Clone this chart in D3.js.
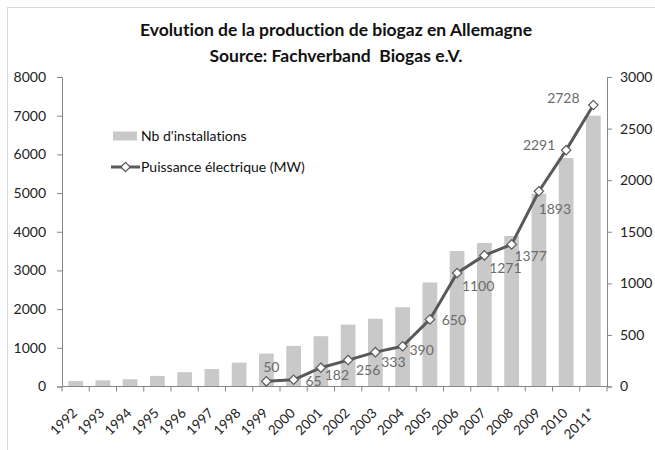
<!DOCTYPE html>
<html>
<head>
<meta charset="utf-8">
<script src="https://cdn.jsdelivr.net/npm/d3@7/dist/d3.min.js"></script>
<style>
  html,body{margin:0;padding:0;background:#fff;}
  svg{display:block;font-family:Lato,"Open Sans",sans-serif;font-variant-ligatures:none;}
</style>
</head>
<body>
<div id="chart"></div>
<script>
// data
const years = ["1992","1993","1994","1995","1996","1997","1998","1999","2000","2001",
  "2002","2003","2004","2005","2006","2007","2008","2009","2010","2011*"];
const installations = [139,159,186,274,370,450,617,850,1050,1300,
  1600,1750,2050,2690,3500,3711,3891,4984,5905,7000];
const power = [null,null,null,null,null,null,null,50,65,182,
  256,333,390,650,1100,1271,1377,1893,2291,2728];
const leftTicks = [0,1000,2000,3000,4000,5000,6000,7000,8000];
const rightTicks = [0,500,1000,1500,2000,2500,3000];
const titleLines = ["Evolution de la production de biogaz en Allemagne",
  "Source: Fachverband  Biogas e.V."];
const legendLabels = ["Nb d'installations", "Puissance électrique (MW)"];

const W = 655, H = 450;
const m = {left: 62, right: 48, top: 77, bottom: 63.5};

const svg = d3.select("#chart").append("svg")
  .attr("width", W).attr("height", H);

// chart frame
svg.append("rect")
  .attr("x", 7.5).attr("y", 7.5)
  .attr("width", 700).attr("height", 500)
  .attr("fill", "none").attr("stroke", "#d9d9d9");

const x = d3.scaleBand()
  .domain(years)
  .range([m.left, W - m.right])
  .paddingInner(0.46).paddingOuter(0.23);

const yL = d3.scaleLinear().domain([0, 8000]).range([H - m.bottom, m.top]);
const yR = d3.scaleLinear().domain([0, 3000]).range([H - m.bottom, m.top]);

// title
svg.selectAll("text.title").data(titleLines).enter().append("text")
  .attr("class", "title")
  .attr("x", 336).attr("y", (d, i) => 36 + i * 26)
  .attr("text-anchor", "middle")
  .style("white-space", "pre")
  .style("font-size", "17.5px").style("font-weight", "700")
  .style("fill", "#111")
  .text(d => d);

// bars
svg.selectAll("rect.bar").data(years).enter().append("rect")
  .attr("class", "bar")
  .attr("x", d => x(d))
  .attr("width", x.bandwidth())
  .attr("y", (d, i) => yL(installations[i]))
  .attr("height", (d, i) => yL(0) - yL(installations[i]))
  .attr("fill", "#c9c9c9");

// axes
const axisColor = "#868686";

const gL = svg.append("g")
  .attr("transform", `translate(${m.left},0)`)
  .call(d3.axisLeft(yL).tickValues(leftTicks).tickSize(5).tickPadding(11).tickFormat(d3.format("d")));

const gR = svg.append("g")
  .attr("transform", `translate(${W - m.right},0)`)
  .call(d3.axisRight(yR).tickValues(rightTicks).tickSize(5).tickPadding(8).tickFormat(d3.format("d")));

const step = x.step();
const tickPos = d3.range(years.length + 1).map(i => m.left + i * step);
const gX = svg.append("g").attr("transform", `translate(0,${yL(0)})`);
gX.append("line")
  .attr("x1", m.left).attr("x2", W - m.right)
  .attr("stroke", axisColor);
gX.selectAll("line.tk").data(tickPos).enter().append("line")
  .attr("class", "tk")
  .attr("x1", d => d).attr("x2", d => d)
  .attr("y1", 0).attr("y2", 5)
  .attr("stroke", axisColor);
gX.selectAll("text").data(years).enter().append("text")
  .attr("transform", d => `translate(${x(d) + x.bandwidth() / 2 - 1},${24}) rotate(-45)`)
  .attr("text-anchor", "end")
  .attr("dy", "0.35em")
  .style("font-size", "13.5px")
  .style("fill", "#222")
  .text(d => d);

[gL, gR].forEach(g => {
  g.select(".domain").attr("stroke", axisColor);
  g.selectAll(".tick line").attr("stroke", axisColor);
  g.selectAll(".tick text").style("font-size", "14px").style("fill", "#222")
    .style("font-family", "Lato,'Open Sans',sans-serif");
});

// line series
const pts = years.map((d, i) => ({year: d, v: power[i]})).filter(p => p.v !== null);
const cx = d => x(d.year) + x.bandwidth() / 2;

svg.append("path")
  .datum(pts)
  .attr("fill", "none")
  .attr("stroke", "#595959")
  .attr("stroke-width", 3)
  .attr("stroke-linejoin", "round")
  .attr("d", d3.line().x(cx).y(d => yR(d.v)));

const diamond = d3.symbol().type(d3.symbolDiamond2).size(56);
svg.selectAll("path.mk").data(pts).enter().append("path")
  .attr("class", "mk")
  .attr("transform", d => `translate(${cx(d)},${yR(d.v)})`)
  .attr("d", diamond)
  .attr("fill", "#fff")
  .attr("stroke", "#595959")
  .attr("stroke-width", 1.2);

// data label placement around each point
const labelOffset = {
  "1999": [5, -14], "2000": [20, 1], "2001": [16, 7], "2002": [20, 10],
  "2003": [18, 10], "2004": [19, 4], "2005": [24, 1], "2006": [21, 13],
  "2007": [21, 13], "2008": [19, 12], "2009": [16, 18], "2010": [-27, -5],
  "2011*": [-30, -7]
};
svg.selectAll("text.lbl").data(pts).enter().append("text")
  .attr("class", "lbl")
  .attr("x", d => cx(d) + labelOffset[d.year][0])
  .attr("y", d => yR(d.v) + labelOffset[d.year][1])
  .attr("dy", "0.35em")
  .attr("text-anchor", "middle")
  .style("font-size", "14px")
  .style("fill", "#6b6b6b")
  .text(d => d.v);

// legend
const lg = svg.append("g");
lg.append("rect")
  .attr("x", 113).attr("y", 131.5)
  .attr("width", 24).attr("height", 9)
  .attr("fill", "#c9c9c9");
lg.append("text")
  .attr("x", 141).attr("y", 136).attr("dy", "0.35em")
  .style("font-size", "14px").style("fill", "#111")
  .text(legendLabels[0]);
lg.append("line")
  .attr("x1", 111).attr("x2", 140).attr("y1", 167).attr("y2", 167)
  .attr("stroke", "#595959").attr("stroke-width", 3);
lg.append("path")
  .attr("transform", "translate(125.5,167)")
  .attr("d", diamond)
  .attr("fill", "#fff").attr("stroke", "#595959").attr("stroke-width", 1.2);
lg.append("text")
  .attr("x", 141).attr("y", 167).attr("dy", "0.35em")
  .style("font-size", "14px").style("fill", "#111")
  .text(legendLabels[1]);
</script>
</body>
</html>
